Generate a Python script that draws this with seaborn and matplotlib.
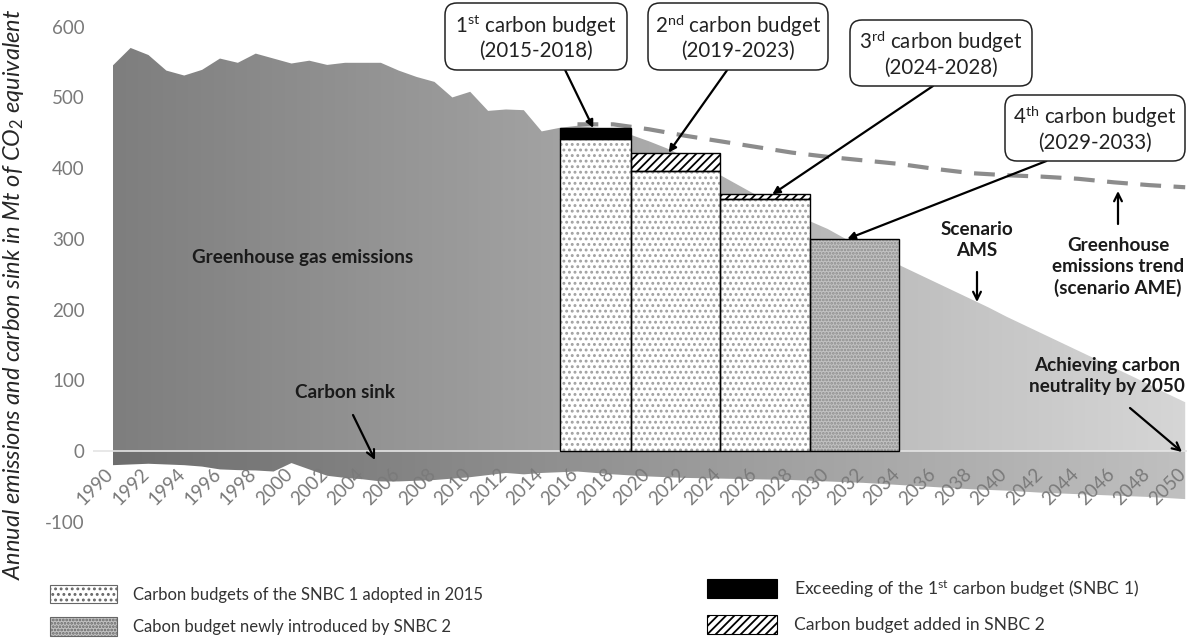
import numpy as np
import matplotlib
matplotlib.use("Agg")
import matplotlib.pyplot as plt
import matplotlib.transforms as mtransforms
import seaborn as sns
from matplotlib.colors import LinearSegmentedColormap
from matplotlib.patches import Patch, FancyBboxPatch
from matplotlib.transforms import IdentityTransform

# historical emissions 1990-2015 (Mt CO2e)
hist_years = list(range(1990, 2016))
hist_emissions = [545, 570, 560, 538, 531, 539, 555, 549, 562, 555,
                  548, 552, 546, 549, 549, 549, 538, 529, 522, 500,
                  508, 481, 483, 482, 452, 457]

# scenario AMS 2016-2050
ams_years = list(range(2016, 2051))
ams_emissions = [460, 457, 452, 447, 438, 428, 416, 403, 390, 376,
                 362, 348, 336, 325, 314, 300, 287, 275, 263, 251,
                 239, 227, 215, 203, 190, 178, 166, 154, 142, 130,
                 118, 106, 94, 81, 69]

# carbon sink (negative)
sink_years = [1990, 1991, 1992, 1993, 1994, 1995, 1996, 1997, 1998, 1999,
              2000, 2001, 2002, 2003, 2004, 2005, 2006, 2007, 2008, 2009,
              2010, 2011, 2012, 2013, 2014, 2015, 2016, 2018, 2020, 2022,
              2024, 2026, 2028, 2030, 2032, 2034, 2036, 2038, 2040, 2042,
              2044, 2046, 2048, 2050]
sink_values = [-20, -19, -18, -19, -20, -22, -26, -27, -27.5, -29,
               -17, -26, -35, -38, -40, -43, -43, -42, -41, -39,
               -37, -34, -31, -33, -31, -30, -29, -33, -36, -38,
               -39, -40, -41, -43, -45, -48, -51, -54, -56, -59,
               -61, -63, -65, -68]

# trend scenario AME
ame_years = [2016, 2018, 2020, 2022, 2024, 2026, 2028, 2030, 2032, 2034,
             2036, 2038, 2040, 2042, 2044, 2046, 2048, 2050]
ame_values = [462, 462, 455, 446, 438, 430, 422, 416, 411, 406,
              399, 393, 390, 388, 385, 380, 376, 373]

# carbon budgets
budget_start = [2015, 2019, 2024, 2029]
budget_span = [4, 5, 5, 5]
snbc1_budget = [441, 396, 356]
snbc2_budget = [457, 422, 363, 300]

W, H = 1187, 642

sns.set_theme(style="white")
plt.rcParams['font.family'] = ['Lato', 'DejaVu Sans']
plt.rcParams['mathtext.fontset'] = 'custom'
plt.rcParams['mathtext.rm'] = 'Lato'
plt.rcParams['mathtext.it'] = 'Lato:italic'
plt.rcParams['mathtext.bf'] = 'Lato:bold'
plt.rcParams['hatch.linewidth'] = 1.3

fig = plt.figure(figsize=(W / 100, H / 100), dpi=100)
ax = fig.add_axes([0.0784, 0.1763, 0.9216, 0.8151])

# emissions area with horizontal gradient
em_years = hist_years + ams_years
em_values = hist_emissions + ams_emissions
grad = np.linspace(0, 1, 256).reshape(1, -1)

em_poly = ax.fill_between(em_years, em_values, 0, facecolor='none', edgecolor='none')
em_cmap = LinearSegmentedColormap.from_list('em', ['#7e7e7e', '#d6d6d6'])
im = ax.imshow(grad, extent=[1990, 2050, 0, 620], aspect='auto', cmap=em_cmap, zorder=1)
im.set_clip_path(em_poly.get_paths()[0], transform=ax.transData)

sink_poly = ax.fill_between(sink_years, sink_values, 0, facecolor='none', edgecolor='none')
sink_cmap = LinearSegmentedColormap.from_list('sk', ['#6e6e6e', '#c0c0c0'])
im2 = ax.imshow(grad, extent=[1990, 2050, -120, 0], aspect='auto', cmap=sink_cmap, zorder=1)
im2.set_clip_path(sink_poly.get_paths()[0], transform=ax.transData)

# zero line
ax.axhline(0, color='#e4e4e4', lw=1.2, zorder=2)

# AME trend
sns.lineplot(x=ame_years, y=ame_values, ax=ax, color='#8c8c8c', lw=3.0, zorder=3)
ax.lines[-1].set_dashes((5, 3))

# budgets
for i in range(3):
    ax.bar(budget_start[i], snbc1_budget[i], width=budget_span[i], align='edge',
           facecolor='white', edgecolor='#a0a0a0', hatch='...', lw=0, zorder=4)
    ax.bar(budget_start[i], snbc1_budget[i], width=budget_span[i], align='edge',
           fill=False, edgecolor='black', lw=1, zorder=5)
    top = snbc2_budget[i] - snbc1_budget[i]
    if i == 0:
        ax.bar(budget_start[i], top, bottom=snbc1_budget[i], width=budget_span[i], align='edge',
               facecolor='black', edgecolor='black', lw=1, zorder=4)
    else:
        ax.bar(budget_start[i], top, bottom=snbc1_budget[i], width=budget_span[i], align='edge',
               facecolor='white', edgecolor='black', hatch='////', lw=1, zorder=4)
ax.bar(budget_start[3], snbc2_budget[3], width=budget_span[3], align='edge',
       facecolor='#c2c2c2', edgecolor='#8c8c8c', hatch='.....', lw=0, zorder=4)
ax.bar(budget_start[3], snbc2_budget[3], width=budget_span[3], align='edge',
       fill=False, edgecolor='black', lw=1, zorder=5)

for s in ['top', 'right', 'left']:
    ax.spines[s].set_visible(False)
ax.spines['bottom'].set_position(('data', 0))
ax.spines['bottom'].set_visible(False)
ax.patch.set_alpha(0)
ax.set_axisbelow(False)

ax.set_xlim(1988.9, 2050.1)
ax.set_ylim(-110, 630)
ax.set_xticks(range(1990, 2051, 2))
ax.set_xticklabels([str(y) for y in range(1990, 2051, 2)])
ax.set_yticks(range(-100, 601, 100))
ax.set_yticklabels([str(v) for v in range(-100, 601, 100)])
ax.tick_params(axis='x', length=0, pad=10, labelrotation=45, labelcolor='#7a7a7a', labelsize=13.5)
ax.tick_params(axis='y', length=0, pad=6, labelcolor='#7a7a7a', labelsize=13.5)
shift = mtransforms.ScaledTranslation(-0.08, 0, fig.dpi_scale_trans)
for t in ax.get_xticklabels():
    t.set_ha('right')
    t.set_rotation_mode('anchor')
    t.set_transform(t.get_transform() + shift)

fig.text(14 / W, 1 - 294 / H, 'Annual emissions and carbon sink in Mt of CO$_\\mathit{2}$ equivalent',
         rotation=90, ha='center', va='center', style='italic', fontsize=17, color='#262626')

# callout boxes (pixel coords from top-left)
boxes = [
    (445, 3, 182, 67, '1$^{\\mathrm{st}}$ carbon budget\n(2015-2018)', 0.66, 0, 0.47),
    (648, 3, 180, 67, '2$^{\\mathrm{nd}}$ carbon budget\n(2019-2023)', 0.44, 1, 0.42),
    (850, 20, 182, 66, '3$^{\\mathrm{rd}}$ carbon budget\n(2024-2028)', 0.456, 2, 0.58),
    (1005, 95, 180, 66, '4$^{\\mathrm{th}}$ carbon budget\n(2029-2033)', 0.23, 3, 0.42),
]
for x0, y0, w, h, label, rel, bi, frac in boxes:
    p = FancyBboxPatch((x0, H - y0 - h), w, h, boxstyle='round,pad=0,rounding_size=12',
                       transform=IdentityTransform(), facecolor='white', edgecolor='#222222',
                       lw=1.1, zorder=10)
    fig.add_artist(p)
    fig.text((x0 + w / 2) / W, 1 - (y0 + h / 2) / H, label, ha='center', va='center',
             fontsize=14.8, color='#222222', linespacing=1.12, zorder=11)
    tip = (budget_start[bi] + budget_span[bi] * frac, snbc2_budget[bi])
    ax.annotate('', xy=tip, xycoords='data', xytext=(x0 + w * rel, H - y0 - h),
                textcoords='figure pixels', zorder=12, annotation_clip=False,
                arrowprops=dict(arrowstyle='-|>', color='black', lw=1.6,
                                mutation_scale=11, shrinkA=0, shrinkB=0))

# text annotations
txt_kw = dict(ha='center', va='center', fontsize=13.6, fontweight='bold', color='#1a1a1a')
fig.text(303 / W, 1 - 257 / H, 'Greenhouse gas emissions', **txt_kw)
fig.text(345 / W, 1 - 392 / H, 'Carbon sink', **txt_kw)
fig.text(977 / W, 1 - 240 / H, 'Scenario\nAMS', linespacing=1.3, **txt_kw)
fig.text(1118 / W, 1 - 267 / H, 'Greenhouse\nemissions trend\n(scenario AME)', linespacing=1.3, **txt_kw)
fig.text(1107 / W, 1 - 376 / H, 'Achieving carbon\nneutrality by 2050', linespacing=1.3, **txt_kw)

arr = dict(arrowstyle='->', color='black', lw=1.6, mutation_scale=14, shrinkA=0, shrinkB=0)
for (x1, y1), (x2, y2) in [((353, 415), (375, 460)), ((977, 272), (977, 302)),
                           ((1118, 224), (1118, 191)), ((1130, 408), (1182, 452))]:
    ax.annotate('', xy=(x2, H - y2), xycoords='figure pixels', xytext=(x1, H - y1),
                textcoords='figure pixels', arrowprops=arr, zorder=12, annotation_clip=False)

# legends
leg_kw = dict(loc='upper left', frameon=False, handlelength=4.0, handleheight=1.3,
              handletextpad=1.0, labelspacing=0.85, borderaxespad=0, borderpad=0,
              labelcolor='#333333')
h1 = [Patch(facecolor='white', edgecolor='#666666', hatch='...', lw=0.8),
      Patch(facecolor='#c2c2c2', edgecolor='#666666', hatch='.....', lw=0.8)]
fig.legend(h1, ['Carbon budgets of the SNBC 1 adopted in 2015',
                'Cabon budget newly introduced by SNBC 2'],
           bbox_to_anchor=(50 / W, 1 - 585 / H), fontsize=12, **leg_kw)
h2 = [Patch(facecolor='black', edgecolor='black', lw=0.8),
      Patch(facecolor='white', edgecolor='black', hatch='////', lw=0.8)]
fig.legend(h2, ['Exceeding of the 1$^{\\mathrm{st}}$ carbon budget (SNBC 1)',
                'Carbon budget added in SNBC 2'],
           bbox_to_anchor=(707 / W, 1 - 578 / H), fontsize=12.6, **leg_kw)

fig.savefig('out.png', dpi=100)
